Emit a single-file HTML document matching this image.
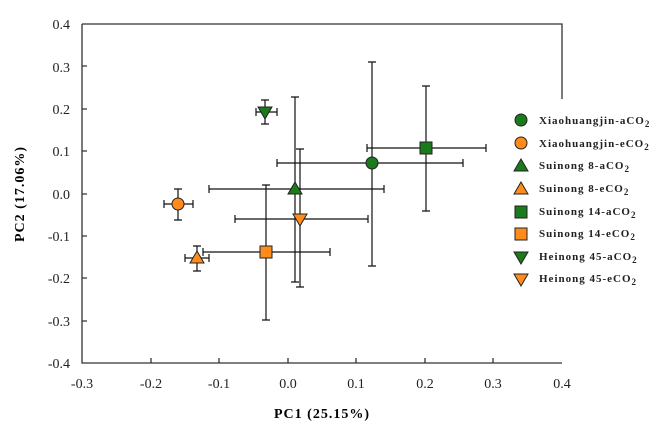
<!DOCTYPE html><html><head><style>body{margin:0;background:#fff}svg{display:block}text{font-family:"Liberation Serif",serif}</style></head><body>
<svg width="664" height="430" xmlns="http://www.w3.org/2000/svg">
<g stroke="#333" stroke-width="1.3" fill="none">
<path d="M82 24H562V99M82 24V363H562"/>
<path d="M151 363v-5M219 363v-5M288 363v-5M356 363v-5M425 363v-5M493 363v-5M82 66h5M82 109h5M82 151h5M82 194h5M82 236h5M82 278h5M82 321h5"/>
</g>
<g font-size="14" fill="#222" text-anchor="end">
<text x="70" y="29">0.4</text><text x="70" y="72">0.3</text><text x="70" y="114">0.2</text><text x="70" y="156">0.1</text><text x="70" y="199">0.0</text><text x="70" y="241">-0.1</text><text x="70" y="283">-0.2</text><text x="70" y="326">-0.3</text><text x="70" y="368">-0.4</text>
</g>
<g font-size="14" fill="#222" text-anchor="middle">
<text x="82" y="388">-0.3</text><text x="151" y="388">-0.2</text><text x="219" y="388">-0.1</text><text x="288" y="388">0.0</text><text x="356" y="388">0.1</text><text x="425" y="388">0.2</text><text x="493" y="388">0.3</text><text x="562" y="388">0.4</text>
</g>
<text x="322" y="418" font-size="14" font-weight="bold" text-anchor="middle" letter-spacing="1">PC1 (25.15%)</text>
<text transform="translate(24,194) rotate(-90)" font-size="14" font-weight="bold" text-anchor="middle" letter-spacing="1">PC2 (17.06%)</text>
<g stroke="#111" stroke-width="1.2" fill="none">
<path d="M277 163H463M277 159v8M463 159v8M372 62V266M368 62h8M368 266h8"/>
<path d="M164 204H193M164 200v8M193 200v8M178 189V220M174 189h8M174 220h8"/>
<path d="M209 189H384M209 185v8M384 185v8M295 97V282M291 97h8M291 282h8"/>
<path d="M185 258H209M185 254v8M209 254v8M197 246V271M193 246h8M193 271h8"/>
<path d="M367 148H486M367 144v8M486 144v8M426 86V211M422 86h8M422 211h8"/>
<path d="M203 252H330M203 248v8M330 248v8M266 185V320M262 185h8M262 320h8"/>
<path d="M256 112H277M256 108v8M277 108v8M265 100V124M261 100h8M261 124h8"/>
<path d="M235 219H368M235 215v8M368 215v8M300 149V287M296 149h8M296 287h8"/>
</g>
<g stroke="#222" stroke-width="1">
<circle cx="372" cy="163" r="6" fill="#1b7a1b"/>
<circle cx="178" cy="204" r="6" fill="#ff8c1a"/>
<path d="M295 182l7 12h-14z" fill="#1b7a1b"/>
<path d="M197 251l7 12h-14z" fill="#ff8c1a"/>
<rect x="420" y="142" width="12" height="12" fill="#1b7a1b"/>
<rect x="260" y="246" width="12" height="12" fill="#ff8c1a"/>
<path d="M258 107h14l-7 12z" fill="#1b7a1b"/>
<path d="M293 214h14l-7 12z" fill="#ff8c1a"/>
<circle cx="521" cy="120" r="6" fill="#1b7a1b"/>
<circle cx="521" cy="143" r="6" fill="#ff8c1a"/>
<path d="M521 159l7 12h-14z" fill="#1b7a1b"/>
<path d="M521 182l7 12h-14z" fill="#ff8c1a"/>
<rect x="515" y="206" width="12" height="12" fill="#1b7a1b"/>
<rect x="515" y="228" width="12" height="12" fill="#ff8c1a"/>
<path d="M514 252h14l-7 12z" fill="#1b7a1b"/>
<path d="M514 274h14l-7 12z" fill="#ff8c1a"/>
</g>
<g font-size="11" font-weight="bold" fill="#222" letter-spacing="1">
<text x="539" y="124">Xiaohuangjin-aCO<tspan font-size="9" dy="3">2</tspan></text>
<text x="539" y="147">Xiaohuangjin-eCO<tspan font-size="9" dy="3">2</tspan></text>
<text x="539" y="169">Suinong 8-aCO<tspan font-size="9" dy="3">2</tspan></text>
<text x="539" y="192">Suinong 8-eCO<tspan font-size="9" dy="3">2</tspan></text>
<text x="539" y="215">Suinong 14-aCO<tspan font-size="9" dy="3">2</tspan></text>
<text x="539" y="237">Suinong 14-eCO<tspan font-size="9" dy="3">2</tspan></text>
<text x="539" y="260">Heinong 45-aCO<tspan font-size="9" dy="3">2</tspan></text>
<text x="539" y="282">Heinong 45-eCO<tspan font-size="9" dy="3">2</tspan></text>
</g>
</svg></body></html>
